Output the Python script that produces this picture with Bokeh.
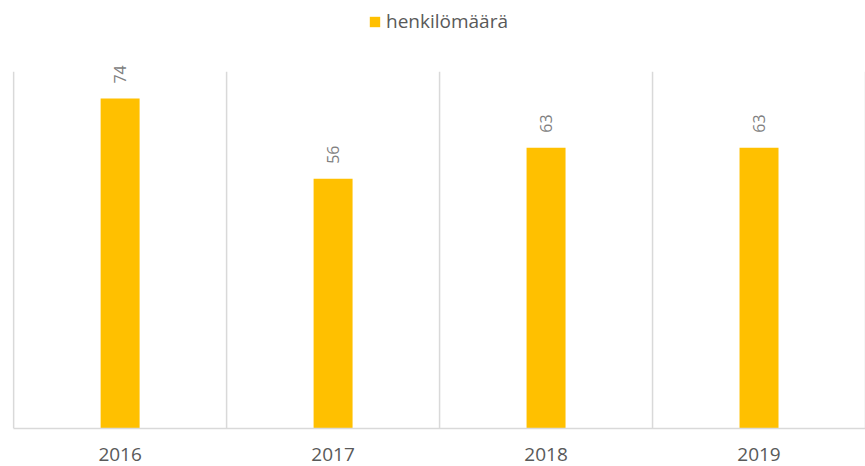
from bokeh.plotting import figure
from bokeh.models import ColumnDataSource, FixedTicker, Legend, LegendItem, Range1d
from bokeh.core.properties import value
from bokeh.embed import file_html
from bokeh.resources import INLINE
import math

years = ["2016", "2017", "2018", "2019"]
counts = [74, 56, 63, 63]
series_name = "henkilömäärä"
axis_max = 80  # value axis maximum of the original chart

n = len(years)
pos = [i + 0.5 for i in range(n)]
src = ColumnDataSource(dict(x=pos, top=counts, lbl=[str(c) for c in counts]))
bounds = list(range(n + 1))
grid_src = ColumnDataSource(dict(x=bounds, y0=[0] * len(bounds), y1=[axis_max] * len(bounds)))

p = figure(width=865, height=466, output_backend="svg", toolbar_location=None,
           x_range=Range1d(-0.01, n), y_range=Range1d(0, 96),
           min_border_left=11, min_border_right=0, min_border_bottom=38, min_border_top=0)
p.outline_line_color = None
p.background_fill_color = "white"
p.xgrid.visible = False
p.ygrid.visible = False
p.yaxis.visible = False

p.segment(x0="x", x1="x", y0="y0", y1="y1", source=grid_src,
          line_color="#D9D9D9", line_width=1.5)

r = p.vbar(x="x", top="top", width=0.183, bottom=0, source=src,
           fill_color="#FFC000", line_color=None)
p.text(x="x", y="top", text="lbl", source=src, angle=math.pi / 2,
       text_align="left", text_baseline="middle", y_offset=-15,
       text_font=value("Open Sans"), text_font_size="16px", text_color="#808080")

p.xaxis.ticker = FixedTicker(ticks=pos)
p.xaxis.bounds = (0, n)
p.xaxis.major_label_overrides = {pv: y for pv, y in zip(pos, years)}
p.xaxis.axis_line_color = "#D9D9D9"
p.xaxis.axis_line_width = 1.5
p.xaxis.major_tick_line_color = None
p.xaxis.minor_tick_line_color = None
p.xaxis.major_label_text_font = "Open Sans"
p.xaxis.major_label_text_font_size = "19px"
p.xaxis.major_label_text_color = "#595959"
p.xaxis.major_label_standoff = 13

legend = Legend(items=[LegendItem(label=series_name, renderers=[r])],
                orientation="horizontal", location="top_center",
                border_line_color=None, background_fill_alpha=0,
                label_text_font="Open Sans", label_text_font_size="19px",
                label_text_color="#595959", glyph_width=13, glyph_height=13,
                label_standoff=5, padding=4, margin=8)
p.add_layout(legend)

open("out.html", "w").write(file_html(p, INLINE))
